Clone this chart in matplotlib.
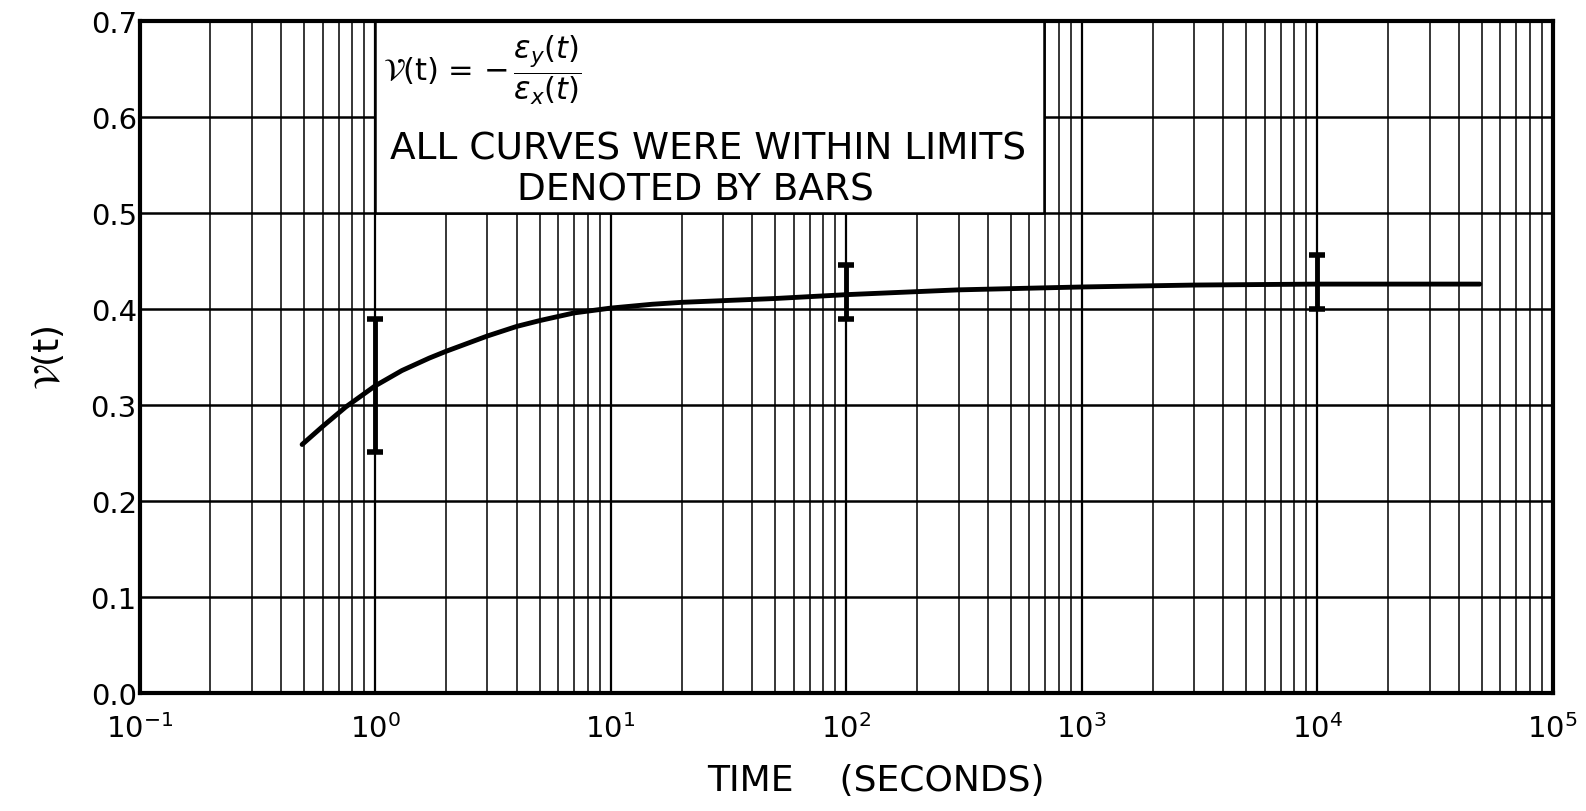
import numpy as np
import matplotlib.pyplot as plt
from matplotlib.patches import Rectangle

# curve
time_s = [0.49, 0.6, 0.75, 1.0, 1.3, 1.7, 2.0, 3.0, 4.0, 5.0, 7.0, 10.0, 15.0, 20.0, 50.0, 100.0, 300.0, 1000.0, 3000.0, 10000.0, 49000.0]
poisson = [0.259, 0.278, 0.298, 0.320, 0.336, 0.349, 0.356, 0.372, 0.382, 0.388, 0.396, 0.401, 0.405, 0.407, 0.411, 0.415, 0.420, 0.423, 0.425, 0.426, 0.426]

# limit bars
bar_t = [1.0, 100.0, 10000.0]
bar_low = [0.251, 0.390, 0.400]
bar_high = [0.390, 0.446, 0.456]

yticks = [0.0, 0.1, 0.2, 0.3, 0.4, 0.5, 0.6, 0.7]
xticks = [1e-1, 1e0, 1e1, 1e2, 1e3, 1e4, 1e5]
xticklabels = ['$10^{-1}$', '$10^{0}$', '$10^{1}$', '$10^{2}$', '$10^{3}$', '$10^{4}$', '$10^{5}$']

plt.rcParams['font.family'] = ['DejaVu Sans']
plt.rcParams['mathtext.fontset'] = 'dejavusans'

fig = plt.figure(figsize=(15.86, 8.12), dpi=100)
ax = fig.add_axes([0.088, 0.145, 0.891, 0.828])

ax.set_xscale('log')
ax.set_xlim(1e-1, 1e5)
ax.set_ylim(0, 0.7)

# graph-paper grid
for dec in range(-1, 5):
    for m in range(1, 10):
        v = m * 10.0 ** dec
        if v <= 1e-1:
            continue
        lw = 1.6 if m == 1 else 1.1
        ax.axvline(v, color='black', lw=lw, zorder=1)
for y in yticks[1:-1]:
    ax.axhline(y, color='black', lw=1.8, zorder=1)

# white label box
box = Rectangle((1.0, 0.5), 690.0 - 1.0, 0.2, facecolor='white', edgecolor='black',
                lw=1.8, zorder=2)
ax.add_patch(box)

ax.plot(time_s, poisson, color='black', lw=3.5, solid_capstyle='round',
        solid_joinstyle='round', zorder=4)
ax.errorbar(bar_t, [(a + b) / 2 for a, b in zip(bar_low, bar_high)],
            yerr=[[(b - a) / 2 for a, b in zip(bar_low, bar_high)]] * 2,
            fmt='none', ecolor='black', elinewidth=3.5, capsize=6, capthick=4, zorder=4)

ax.set_xticks(xticks)
ax.set_xticklabels(xticklabels)
ax.set_xticks([], minor=True)
ax.set_yticks(yticks)
ax.set_yticklabels(['%.1f' % v for v in yticks])
ax.tick_params(axis='both', length=0, labelsize=21)
ax.tick_params(axis='x', pad=14)
ax.tick_params(axis='y', pad=2)
for s in ax.spines.values():
    s.set_linewidth(3)

ax.text(1.08, 0.688, r'$\mathcal{V}$(t) = $-\,\dfrac{\epsilon_y(t)}{\epsilon_x(t)}$',
        fontsize=22, va='top', ha='left', zorder=5)
ax.text(26, 0.567, 'ALL CURVES WERE WITHIN LIMITS', fontsize=27, ha='center', va='center', zorder=5)
ax.text(23, 0.525, 'DENOTED BY BARS', fontsize=27, ha='center', va='center', zorder=5)

ax.set_ylabel(r'$\mathcal{V}$(t)', fontsize=26, labelpad=18)
fig.text(0.552, 0.038, 'TIME    (SECONDS)', fontsize=26, ha='center', va='center')

fig.savefig('out.png', dpi=100)
